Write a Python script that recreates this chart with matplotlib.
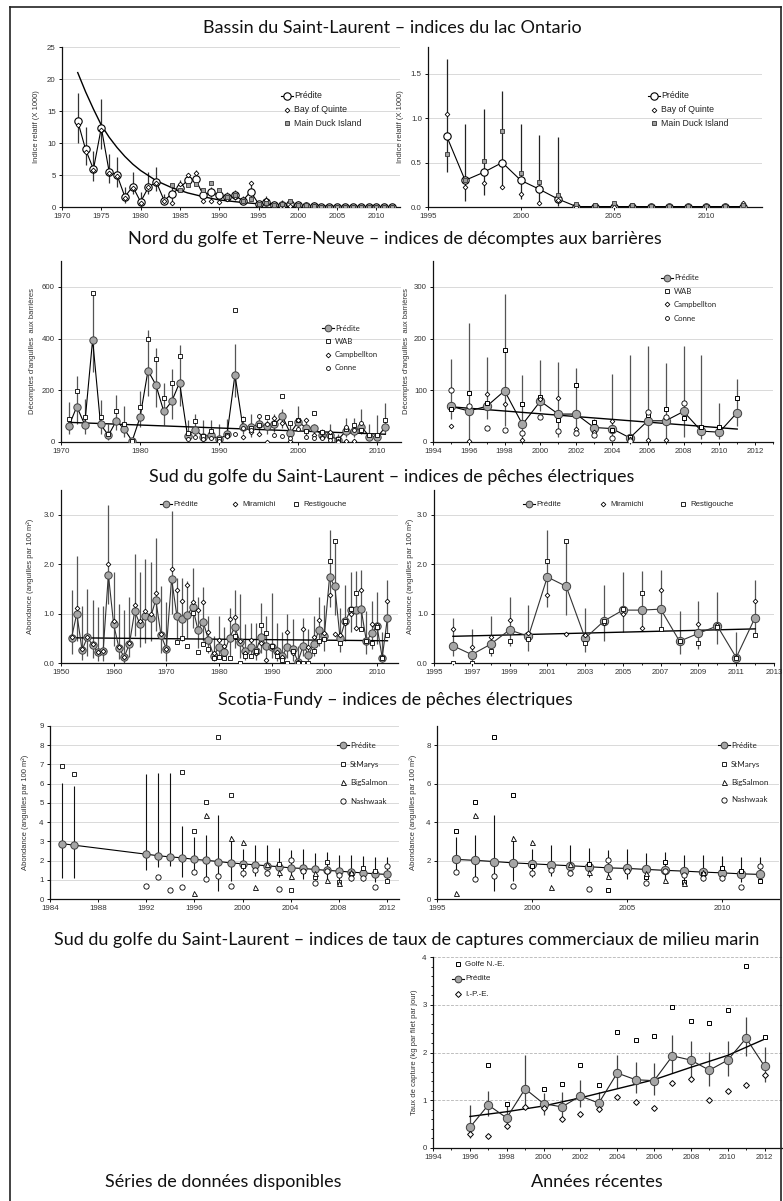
import numpy as np
import matplotlib
matplotlib.use("Agg")
import matplotlib.pyplot as plt
from matplotlib.lines import Line2D
from matplotlib.ticker import FixedLocator, MultipleLocator, FormatStrFormatter

nan = np.nan

# ---------------- Lac Ontario (relative index, x 1000) ----------------
ont_years = list(range(1972, 2013))
ont_pred = [13.4, 9.0, 5.9, 12.4, 5.5, 5.0, 1.6, 3.2, 0.8, 3.1, 3.9, 1.0, 2.1, 3.0,
            4.2, 4.3, 1.8, 2.3, 1.8, 1.5, 1.8, 1.0, 2.4, 0.5, 0.80, 0.30, 0.39, 0.50,
            0.30, 0.20, 0.09, 0.005, 0.005, 0.005, 0.005, 0.005, 0.005, 0.005, 0.005,
            0.005, 0.005]
ont_lo = [10.0, 6.5, 4.0, 9.0, 3.7, 3.2, 0.6, 2.0, 0.2, 2.0, 2.5, 0.4, 1.0, 2.4, 3.4,
          3.4, 1.0, 1.5, 1.1, 0.9, 1.1, 0.6, 1.6, 0.3, 0.39, 0.07, 0.14, 0.22, 0.09,
          0.03, 0.01, 0, 0, 0, 0, 0, 0, 0, 0, 0, 0]
ont_hi = [17.8, 12.5, 8.8, 16.8, 8.3, 7.8, 3.1, 5.5, 2.3, 5.4, 6.3, 2.0, 3.1, 4.2, 5.3,
          5.8, 2.8, 3.1, 2.6, 2.3, 2.7, 1.7, 3.5, 0.85, 1.67, 0.93, 1.10, 1.30, 0.93,
          0.81, 0.79, 0.01, 0.01, 0.01, 0.01, 0.01, 0.01, 0.01, 0.01, 0.01, 0.01]
ont_quinte = [12.8, 8.6, 5.8, 12.0, 5.3, 4.8, 1.4, 3.0, 0.7, 3.1, 3.7, 1.0, 0.7, 3.6,
              5.0, 5.3, 0.9, 0.9, 0.8, 1.3, 1.6, 0.9, 3.7, 0.3, 1.05, 0.23, 0.27, 0.22,
              0.15, 0.04, 0.08, 0.005, 0.005, 0.005, 0.005, 0.005, 0.005, 0.005, 0.005,
              0.005, 0.04]
ont_duck = [nan] * 12 + [3.4, 2.6, 3.4, 3.6, 2.7, 3.7, 2.6, 1.6, 1.8, 1.0, 1.2, 0.5,
                         0.60, 0.30, 0.52, 0.86, 0.38, 0.28, 0.14, 0.03, 0.02, 0.05,
                         0.02, 0.01, 0.01, 0.01, 0.01, 0.01, 0.02]
ont_trend_years = [1972, 1973, 1974, 1975, 1976, 1977, 1978, 1979, 1980, 1982, 1984,
                   1986, 1988, 1990, 1993, 1996, 2000, 2005, 2012]
ont_trend = [21.0, 18.0, 15.3, 12.8, 10.9, 9.3, 7.9, 6.7, 5.7, 4.1, 3.0, 2.2, 1.6,
             1.1, 0.7, 0.4, 0.2, 0.1, 0.03]

# ---------------- Barrières (Nord du golfe et Terre-Neuve) ----------------
bar_years = list(range(1971, 2012))
bar_pred = [62, 137, 67, 396, 68, 26, 82, 50, 4, 96, 276, 221, 118, 157, 230, 24, 48,
            19, 28, 10, 30, 260, 58, 58, 69, 60, 69, 99, 34, 79, 54, 54, 28, 26, 8, 41,
            41, 59, 21, 19, 57]
bar_lo = [32, 70, 32, 270, 32, 6, 45, 19, 0, 58, 176, 135, 64, 90, 141, 6, 26, 6, 9, 3,
          13, 173, 32, 19, 40, 30, 40, 55, 15, 45, 28, 28, 12, 12, 2, 20, 20, 30, 8, 8, 30]
bar_hi = [154, 257, 167, 578, 163, 70, 182, 139, 13, 199, 434, 362, 227, 283, 376, 84,
          109, 84, 86, 70, 89, 379, 99, 107, 110, 84, 107, 128, 64, 141, 77, 70, 51, 71,
          32, 94, 94, 128, 68, 103, 150]
bar_wab = [88, 198, 95, 575, 97, 30, 118, 70, 3, 135, 400, 320, 170, 228, 332, 35, 80,
           25, 42, 10, 28, 512, 88, 55, 64, 95, 75, 177, 74, 87, 43, 111, 39, 24, 10, 52,
           64, 46, 29, 29, 85]
bar_campbellton = [nan] * 22 + [19, 40, 31, 1, 92, 74, 3, 84, 86, 26, 19, 40, 5, 3, 3,
                                nan, nan, nan, nan]
bar_conne = [nan] * 15 + [10, 18, 12, 15, 5, 25, 32, 55, 45, 100, 69, 28, 24, 17, 49,
                          21, 17, 14, 8, 1, 58, 48, 75, nan, nan, nan]
bar_trend_years = [1971, 2011]
bar_trend = [76, 30]

bar_rec_years = list(range(1995, 2012))
bar_rec_pred = [69, 60, 69, 99, 34, 79, 54, 54, 28, 26, 8, 41, 41, 59, 21, 19, 57]
bar_rec_lo = [45, 5, 45, 30, 5, 60, 10, 15, 15, 5, 0, 5, 5, 10, 5, 5, 30]
bar_rec_hi = [161, 230, 165, 287, 129, 159, 155, 143, 45, 131, 168, 186, 153, 185,
              168, 75, 121]
bar_rec_trend_years = [1995, 2011]
bar_rec_trend = [68, 25]

# ---------------- Pêches électriques (Sud du golfe) ----------------
sg_years = list(range(1952, 2013))
sg_pred = [0.51, 1.00, 0.26, 0.52, 0.36, 0.22, 0.24, 1.79, 0.78, 0.31, 0.12, 0.39,
           1.05, 0.78, 0.96, 0.92, 1.28, 0.56, 0.29, 1.70, 0.96, 0.90, 0.97, 1.14, 0.67,
           0.83, 0.47, 0.14, 0.33, 0.22, 0.50, 0.73, 0.43, 0.24, 0.33, 0.24, 0.52, 0.35,
           0.33, 0.24, 0.14, 0.33, 0.28, 0.03,
           0.35, 0.17, 0.38, 0.67, 0.54, 1.74, 1.55, 0.50, 0.85, 1.07, 1.07, 1.09, 0.44,
           0.60, 0.75, 0.11, 0.92]
sg_lo = [0.18, 0.45, 0.07, 0.15, 0.10, 0.05, 0.05, 1.20, 0.35, 0.08, 0.00, 0.12, 0.55,
         0.33, 0.40, 0.45, 0.65, 0.20, 0.05, 1.00, 0.48, 0.45, 0.50, 0.70, 0.30, 0.45,
         0.20, 0.05, 0.10, 0.07, 0.15, 0.30, 0.10, 0.07, 0.12, 0.07, 0.20, 0.05, 0.10,
         0.05, 0.02, 0.10, 0.05, 0.00,
         0.14, 0.05, 0.15, 0.35, 0.25, 1.13, 0.98, 0.22, 0.45, 0.62, 0.68, 0.66, 0.19,
         0.28, 0.38, 0.02, 0.59]
sg_hi = [1.48, 2.17, 1.15, 1.49, 1.28, 1.13, 1.15, 3.19, 1.85, 1.20, 1.08, 1.33, 2.21,
         1.85, 2.10, 2.05, 2.52, 1.55, 1.23, 3.07, 1.72, 1.72, 1.65, 1.93, 1.33, 1.53,
         0.95, 0.55, 0.95, 0.72, 1.12, 1.48, 1.40, 0.78, 0.80, 0.80, 1.22, 0.95, 1.42,
         0.80, 0.62, 1.00, 0.90, 0.35,
         0.92, 0.68, 0.96, 1.34, 1.18, 2.69, 2.47, 1.12, 1.57, 1.84, 1.87, 1.89, 1.05,
         1.25, 1.44, 0.62, 1.68]
sg_miramichi = [0.52, 1.12, 0.28, 0.53, 0.38, 0.22, 0.25, 2.00, 0.85, 0.32, 0.13, 0.40,
                1.17, 0.85, 1.05, 1.00, 1.42, 0.58, 0.28, 1.91, 1.47, 1.25, 1.57, 1.23,
                1.07, 1.23, 0.63, 0.20, 0.47, 0.35, 0.90, 0.94, 0.45, 0.20, 0.47, 0.20,
                0.40, 0.07, 0.33, 0.22, 0.12, 0.63, 0.20, 0.03,
                0.69, 0.33, 0.53, 0.87, 0.61, 1.38, 0.58, 0.56, 0.80, 1.00, 0.70, 1.47,
                0.44, 0.78, 0.77, 0.12, 1.26]
sg_restigouche = [nan] * 20 + [0.43, 0.50, 0.35, 1.02, 0.22, 0.38, 0.28, 0.11, 0.12,
                               0.10, 0.10, 0.55, 0.00, 0.15, 0.15, 0.25, 0.76, 0.60,
                               0.35, 0.15, 0.07, 0.00, 0.25, 0.00,
                               0.00, 0.00, 0.24, 0.44, 0.48, 2.06, 2.46, 0.41, 0.85,
                               1.09, 1.41, 0.69, 0.44, 0.41, 0.73, 0.10, 0.56]
sg_trend_years = [1952, 2012]
sg_trend = [0.51, 0.45]
sg_rec_trend_years = [1996, 2012]
sg_rec_trend = [0.54, 0.69]

# ---------------- Scotia-Fundy ----------------
sf_years = [1985, 1986] + list(range(1992, 2013))
sf_pred = [2.88, 2.80, 2.33, 2.25, 2.19, 2.14, 2.06, 2.01, 1.95, 1.88, 1.83, 1.78, 1.73,
           1.68, 1.62, 1.59, 1.54, 1.49, 1.45, 1.40, 1.36, 1.31, 1.28]
sf_lo = [1.07, 1.07, 1.50, 1.65, 1.70, 1.12, 1.35, 1.15, 0.42, 0.95, 1.15, 1.20, 1.20,
         1.15, 1.10, 1.05, 1.00, 0.98, 0.95, 0.93, 0.92, 0.90, 0.88]
sf_hi = [6.03, 5.88, 6.48, 6.56, 6.58, 3.80, 3.25, 3.35, 4.35, 3.30, 2.60, 2.80, 2.80,
         2.66, 2.54, 2.59, 2.40, 2.42, 2.31, 2.31, 2.25, 2.21, 2.19]
sf_stmarys = [6.90, 6.50, nan, nan, nan, 6.62, 3.53, 5.05, 8.45, 5.43, 1.70, nan, nan,
              1.83, 0.47, 1.45, 1.12, 1.90, 0.87, 1.30, 1.60, 1.45, 0.93]
sf_bigsalmon = [nan, nan, nan, nan, nan, nan, 0.33, 4.37, nan, 3.18, 2.97, 0.62, 1.80,
                1.40, 1.22, nan, 1.35, 0.98, 0.85, 1.40, nan, nan, nan]
sf_nashwaak = [nan, nan, 0.70, 1.15, 0.45, 0.60, 1.38, 1.02, 1.20, 0.68, 1.37, 1.50,
               1.33, 0.50, 2.05, 1.45, 0.83, 1.45, 1.25, 1.08, 1.07, 0.60, 1.72]

# ---------------- Taux de captures commerciaux ----------------
cr_years = list(range(1996, 2013))
cr_pred = [0.43, 0.90, 0.63, 1.24, 0.93, 0.86, 1.09, 0.94, 1.57, 1.43, 1.41, 1.93, 1.84,
           1.63, 1.84, 2.30, 1.71]
cr_lo = [0.20, 0.68, 0.45, 0.85, 0.70, 0.65, 0.85, 0.75, 1.25, 1.15, 1.12, 1.58, 1.45,
         1.30, 1.50, 1.92, 1.38]
cr_hi = [0.90, 1.19, 0.91, 1.95, 1.15, 1.17, 1.43, 1.18, 1.95, 1.81, 1.79, 2.36, 2.25,
         2.02, 2.25, 2.75, 2.12]
cr_golfe = [nan, 1.74, 0.93, nan, 1.24, 1.34, 1.74, 1.32, 2.43, 2.26, 2.34, 2.95, 2.67,
            2.61, 2.90, 3.81, 2.32]
cr_ipe = [0.29, 0.26, 0.47, 0.85, 0.84, 0.60, 0.72, 0.81, 1.06, 0.96, 0.83, 1.36, 1.44,
          1.00, 1.19, 1.32, 1.52]
cr_trend_years = [1996, 1998, 2000, 2002, 2004, 2006, 2008, 2010, 2012]
cr_trend = [0.66, 0.76, 0.88, 1.05, 1.24, 1.43, 1.69, 1.94, 2.28]

# ---------------- Figure ----------------
W, H = 783, 1201
fig = plt.figure(figsize=(W / 100, H / 100), dpi=100)
TICKFONT = "Liberation Sans"
HEADFONT = "Lato"


def fx(px):
    return px / W


def fy(py):
    return 1 - py / H


def panel(x0, x1, ytop, ybot):
    return fig.add_axes([fx(x0), fy(ybot), (x1 - x0) / W, (ybot - ytop) / H])


def style(ax, xlim, ylim, xticks, yticks, yfmt=None, grid_ls="-", xminor=None,
          yminor=None, grid_color="#d9d9d9"):
    ax.set_xlim(*xlim)
    ax.set_ylim(*ylim)
    ax.xaxis.set_major_locator(FixedLocator(xticks))
    ax.yaxis.set_major_locator(FixedLocator(yticks))
    if xminor:
        ax.xaxis.set_minor_locator(MultipleLocator(xminor))
    if yminor:
        ax.yaxis.set_minor_locator(MultipleLocator(yminor))
    if yfmt:
        ax.yaxis.set_major_formatter(FormatStrFormatter(yfmt))
    ax.xaxis.set_major_formatter(FormatStrFormatter("%d"))
    for s in ("top", "right"):
        ax.spines[s].set_visible(False)
    for s in ("left", "bottom"):
        ax.spines[s].set_linewidth(0.9)
        ax.spines[s].set_color("#111111")
    ax.tick_params(which="major", direction="out", length=2.5, width=0.7,
                   labelsize=5.7, pad=2, colors="#111111")
    ax.tick_params(which="minor", direction="out", length=1.5, width=0.6)
    for lab in ax.get_xticklabels() + ax.get_yticklabels():
        lab.set_family(TICKFONT)
        lab.set_color("#333333")
    ax.yaxis.grid(True, color=grid_color, lw=0.7, ls=grid_ls)
    ax.set_axisbelow(True)
    ax.patch.set_alpha(0)


def ylabel(text, xpx, ytop, ybot, size=5.5):
    fig.text(fx(xpx), fy((ytop + ybot) / 2), text, rotation=90, ha="center",
             va="center", fontsize=size, family=TICKFONT, color="#333333")


def heading(text, xpx, ypx, size=13):
    fig.text(fx(xpx), fy(ypx), text, ha="center", va="center", fontsize=size,
             family=HEADFONT, color="#111111")


def legend_items(entries, xs, ys, size, family, text_dx=13):
    for (has_line, mstyle, label), x, y in zip(entries, xs, ys):
        if has_line:
            fig.add_artist(Line2D([fx(x), fx(x + 12)], [fy(y), fy(y)], color="k",
                                  lw=0.8))
        fig.add_artist(Line2D([fx(x + 6)], [fy(y)], linestyle="none", **mstyle))
        fig.text(fx(x + text_dx), fy(y), label, fontsize=size, family=family,
                 ha="left", va="center", color="#222222")


PRED_OPEN = dict(marker="o", ms=5.3, mfc="white", mec="k", mew=0.8)
PRED_GRAY = dict(marker="o", ms=5.3, mfc="#a6a6a6", mec="#404040", mew=0.7)
PRED_GRAY_L = dict(marker="o", ms=6.0, mfc="#a6a6a6", mec="#404040", mew=0.7)
LEG_PRED_GRAY = dict(marker="o", ms=4.8, mfc="#a6a6a6", mec="#404040", mew=0.7)
DIAMOND = dict(marker="D", ms=2.4, mfc="white", mec="k", mew=0.6)
DIAMOND_L = dict(marker="D", ms=3.0, mfc="white", mec="k", mew=0.7)
SQ_GRAY = dict(marker="s", ms=3.2, mfc="#a0a0a0", mec="#333333", mew=0.6)
SQ_OPEN = dict(marker="s", ms=2.8, mfc="white", mec="k", mew=0.6)
SQ_OPEN_L = dict(marker="s", ms=3.3, mfc="white", mec="k", mew=0.7)
CIRC_SMALL = dict(marker="o", ms=2.8, mfc="white", mec="k", mew=0.6)
CIRC_MED = dict(marker="o", ms=3.8, mfc="white", mec="k", mew=0.6)
TRI = dict(marker="^", ms=3.6, mfc="white", mec="k", mew=0.6)


def draw(ax, years, pred, lo, hi, pstyle, obs, bar_color, bar_lw=0.9,
         trend=None, line_color="k"):
    ax.vlines(years, lo, hi, color=bar_color, lw=bar_lw, zorder=1)
    if trend is not None:
        ax.plot(trend[0], trend[1], color="k", lw=1.0, zorder=2)
    ax.plot(years, pred, color=line_color, lw=0.8, zorder=3, **pstyle)
    for oy, ov, ostyle in obs:
        ax.plot(oy, ov, linestyle="none", zorder=4, **ostyle)


# Row 1: lac Ontario -------------------------------------------------------
heading("Bassin du Saint-Laurent – indices du lac Ontario", 392, 28)
ax = panel(62, 400, 47, 207)
draw(ax, ont_years, ont_pred, ont_lo, ont_hi, PRED_OPEN,
     [(ont_years, ont_quinte, DIAMOND), (ont_years, ont_duck, SQ_GRAY)],
     "#333333", trend=(ont_trend_years, ont_trend))
style(ax, (1970, 2013), (0, 25), range(1970, 2011, 5), range(0, 26, 5))
ylabel("Indice relatif (X 1000)", 37, 47, 207)
legend_items([(True, PRED_OPEN, "Prédite"), (False, DIAMOND, "Bay of Quinte"),
              (False, SQ_GRAY, "Main Duck Island")],
             [281] * 3, [96, 109.5, 123], 6.3, TICKFONT)

ax = panel(428, 762, 47, 207)
sel = slice(24, None)
draw(ax, ont_years[sel], ont_pred[sel], ont_lo[sel], ont_hi[sel], PRED_OPEN,
     [(ont_years[sel], ont_quinte[sel], DIAMOND), (ont_years[sel], ont_duck[sel], SQ_GRAY)],
     "#222222")
style(ax, (1995, 2013), (0, 1.8), [1995, 2000, 2005, 2010], [0, 0.5, 1.0, 1.5],
      yfmt="%.1f")
ylabel("Indice relatif (X 1000)", 401, 47, 207)
legend_items([(True, PRED_OPEN, "Prédite"), (False, DIAMOND, "Bay of Quinte"),
              (False, SQ_GRAY, "Main Duck Island")],
             [648] * 3, [96, 109.5, 123], 6.3, TICKFONT)

# Row 2: barrières ---------------------------------------------------------
heading("Nord du golfe et Terre-Neuve – indices de décomptes aux barrières", 395, 239)
ax = panel(61, 401, 261, 442)
draw(ax, bar_years, bar_pred, bar_lo, bar_hi, PRED_GRAY,
     [(bar_years, bar_wab, SQ_OPEN), (bar_years, bar_campbellton, DIAMOND),
      (bar_years, bar_conne, CIRC_SMALL)],
     "#555555", trend=(bar_trend_years, bar_trend))
style(ax, (1970, 2013), (0, 700), range(1970, 2011, 10), range(0, 601, 200))
ylabel("Décomptes d'anguilles  aux barrières", 33, 261, 442)
legend_items([(True, LEG_PRED_GRAY, "Prédite"), (False, SQ_OPEN, "WAB"),
              (False, DIAMOND, "Campbellton"), (False, CIRC_SMALL, "Conne")],
             [322] * 4, [328, 341, 354.5, 368], 5.6, HEADFONT)

ax = panel(433, 773, 261, 442)
sel = slice(24, None)
draw(ax, bar_rec_years, bar_rec_pred, bar_rec_lo, bar_rec_hi, PRED_GRAY_L,
     [(bar_years[sel], bar_wab[sel], SQ_OPEN_L), (bar_years[sel], bar_campbellton[sel], DIAMOND),
      (bar_years[sel], bar_conne[sel], CIRC_MED)],
     "#555555", trend=(bar_rec_trend_years, bar_rec_trend))
style(ax, (1994, 2013), (0, 350), range(1994, 2013, 2), range(0, 301, 100), xminor=1)
ylabel("Décomptes d'anguilles  aux barrières", 407, 261, 442)
legend_items([(True, LEG_PRED_GRAY, "Prédite"), (False, SQ_OPEN, "WAB"),
              (False, DIAMOND, "Campbellton"), (False, CIRC_SMALL, "Conne")],
             [661] * 4, [278, 291, 304, 318], 5.6, HEADFONT)

# Row 3: pêches électriques, Sud du golfe ---------------------------------
heading("Sud du golfe du Saint-Laurent – indices de pêches électriques", 392, 477)
ax = panel(61, 398, 490, 663)
draw(ax, sg_years, sg_pred, sg_lo, sg_hi, PRED_GRAY,
     [(sg_years, sg_miramichi, DIAMOND), (sg_years, sg_restigouche, SQ_OPEN)],
     "#555555", trend=(sg_trend_years, sg_trend), line_color="#333333")
style(ax, (1950, 2014), (0, 3.5), range(1950, 2011, 10), [0, 1, 2, 3], yfmt="%.1f")
ylabel("Abondance (anguilles par 100 m²)", 30, 490, 663)
legend_items([(True, LEG_PRED_GRAY, "Prédite"), (False, DIAMOND, "Miramichi"),
              (False, SQ_OPEN, "Restigouche")],
             [160, 229, 290], [504] * 3, 5.6, TICKFONT)

ax = panel(434, 774, 490, 663)
sel = slice(44, None)
draw(ax, sg_years[sel], sg_pred[sel], sg_lo[sel], sg_hi[sel], PRED_GRAY_L,
     [(sg_years[sel], sg_miramichi[sel], DIAMOND), (sg_years[sel], sg_restigouche[sel], SQ_OPEN)],
     "#555555", trend=(sg_rec_trend_years, sg_rec_trend), line_color="#333333")
style(ax, (1995, 2013), (0, 3.5), range(1995, 2014, 2), [0, 1, 2, 3], yfmt="%.1f",
      xminor=1)
ylabel("Abondance (anguilles par 100 m²)", 410, 490, 663)
legend_items([(True, LEG_PRED_GRAY, "Prédite"), (False, DIAMOND, "Miramichi"),
              (False, SQ_OPEN, "Restigouche")],
             [523, 597, 677], [504] * 3, 5.6, TICKFONT)

# Row 4: Scotia-Fundy ------------------------------------------------------
heading("Scotia-Fundy – indices de pêches électriques", 395, 700)
ax = panel(50, 399, 726, 899)
draw(ax, sf_years, sf_pred, sf_lo, sf_hi, PRED_GRAY,
     [(sf_years, sf_stmarys, SQ_OPEN), (sf_years, sf_bigsalmon, TRI),
      (sf_years, sf_nashwaak, CIRC_MED)],
     "#111111", bar_lw=0.8)
style(ax, (1984, 2013), (0, 9), range(1984, 2013, 4), range(0, 10))
ylabel("Abondance (anguilles par 100 m²)", 25, 726, 899)
legend_items([(True, LEG_PRED_GRAY, "Prédite"), (False, SQ_OPEN, "StMarys"),
              (False, TRI, "BigSalmon"), (False, CIRC_MED, "Nashwaak")],
             [337] * 4, [745, 764, 782, 801], 5.8, HEADFONT)

ax = panel(437, 779, 726, 899)
sel = slice(6, None)
draw(ax, sf_years[sel], sf_pred[sel], sf_lo[sel], sf_hi[sel], PRED_GRAY_L,
     [(sf_years[sel], sf_stmarys[sel], SQ_OPEN_L), (sf_years[sel], sf_bigsalmon[sel], TRI),
      (sf_years[sel], sf_nashwaak[sel], CIRC_MED)],
     "#111111", bar_lw=0.8)
style(ax, (1995, 2013), (0, 9), [1995, 2000, 2005, 2010], [0, 2, 4, 6, 8])
ylabel("Abondance (anguilles par 100 m²)", 413, 726, 899)
legend_items([(True, LEG_PRED_GRAY, "Prédite"), (False, SQ_OPEN, "StMarys"),
              (False, TRI, "BigSalmon"), (False, CIRC_MED, "Nashwaak")],
             [718] * 4, [745, 764, 782, 800], 5.8, HEADFONT)

# Row 5: taux de captures commerciaux -------------------------------------
heading("Sud du golfe du Saint-Laurent – indices de taux de captures commerciaux "
        "de milieu marin", 407, 940)
ax = panel(433, 783, 957, 1148)
draw(ax, cr_years, cr_pred, cr_lo, cr_hi, PRED_GRAY_L,
     [(cr_years, cr_golfe, SQ_OPEN_L), (cr_years, cr_ipe, DIAMOND_L)],
     "#444444", trend=(cr_trend_years, cr_trend), line_color="#222222")
style(ax, (1994, 2013), (0, 4), range(1994, 2013, 2), range(0, 5), grid_ls=(0, (3, 1.5)),
      xminor=1, yminor=0.2, grid_color="#bfbfbf")
ylabel("Taux de capture (kg par filet par jour)", 415, 957, 1148)
legend_items([(False, SQ_OPEN_L, "Golfe N.-E."), (True, LEG_PRED_GRAY, "Prédite"),
              (False, DIAMOND_L, "I.-P.-E.")],
             [452] * 3, [964, 979, 994], 5.8, TICKFONT)

heading("Séries de données disponibles", 223, 1182)
heading("Années récentes", 597, 1182)

# Frame around the whole figure
for xs, ys in (([10, 10], [7, 1210]), ([10, 781], [7, 7]), ([781, 781], [7, 1210])):
    fig.add_artist(Line2D([fx(v) for v in xs], [fy(v) for v in ys], color="#222222",
                          lw=1.2))

fig.savefig("out.png", dpi=100)
